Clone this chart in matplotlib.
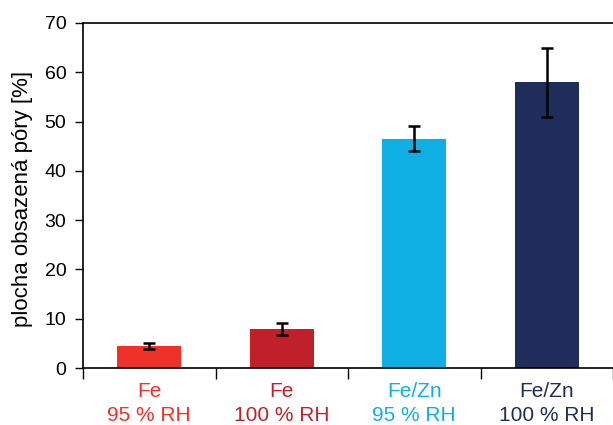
import numpy as np
from matplotlib import pyplot as plt

# data
labels = ['Fe\n95 % RH', 'Fe\n100 % RH', 'Fe/Zn\n95 % RH', 'Fe/Zn\n100 % RH']
values = [4.5, 7.9, 46.5, 58.0]
errors = [0.6, 1.3, 2.5, 7.0]
colors = ['#EE3129', '#C0202A', '#0FAFE4', '#1E2D5A']

plt.rcParams['font.family'] = ['Liberation Sans', 'DejaVu Sans']

fig = plt.figure(figsize=(6.13, 4.25), dpi=100)
ax = fig.add_axes([0.1354, 0.1341, 0.8646, 0.8118])

x = np.arange(len(values))
ax.bar(x, values, width=0.48, color=colors)
ax.errorbar(x, values, yerr=errors, fmt='none', ecolor='black',
            elinewidth=1.8, capsize=4, capthick=1.8)

ax.set_xlim(-0.5, 3.5)
ax.set_ylim(0, 70)
ax.set_yticks(range(0, 71, 10))
ax.tick_params(axis='y', labelsize=14, direction='out', length=6, width=1, pad=6)

# category labels in bar colours, tick marks between categories
ax.set_xticks(x)
ax.set_xticklabels(labels, fontsize=15, linespacing=1.35)
for lab, c in zip(ax.get_xticklabels(), colors):
    lab.set_color(c)
ax.tick_params(axis='x', which='major', length=0, pad=10)
ax.set_xticks(np.arange(-0.5, 3.6, 1), minor=True)
ax.tick_params(axis='x', which='minor', direction='out', length=8, width=1)

ax.spines['right'].set_visible(False)
for s in ['left', 'top', 'bottom']:
    ax.spines[s].set_linewidth(1.2)

ax.set_ylabel('plocha obsazená póry [%]', fontsize=16)
ax.yaxis.set_label_coords(-0.094, 0.49)

fig.savefig('out.png', dpi=100)
